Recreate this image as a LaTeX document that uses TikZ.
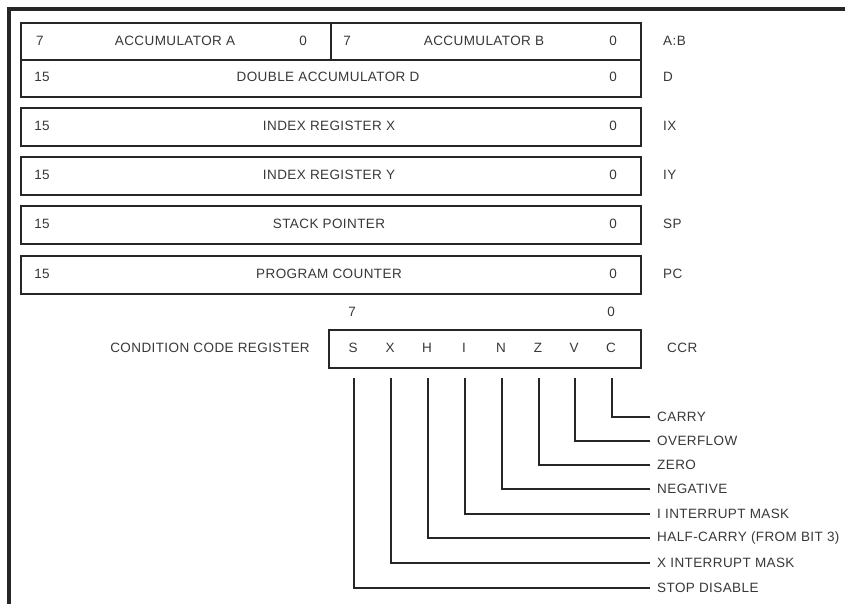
\documentclass[tikz,border=0pt]{standalone}
\usepackage{fontspec}
\setmainfont{Liberation Sans}[LetterSpace=3]
\begin{document}
\begin{tikzpicture}[x=1pt,y=-1pt,
  reg/.style={draw=black!85, line width=2.4pt, anchor=north west, inner sep=0pt, minimum height=37pt},
  txt/.style={font=\fontsize{13.5}{15}\selectfont, text=black!78, inner sep=0pt},
  lab/.style={txt, anchor=west},
  wire/.style={draw=black!85, line width=1.3pt}]
\useasboundingbox (0,0) rectangle (845,604);
\fill[white] (0,0) rectangle (845,604);
\draw[line width=3.5pt, black!85] (9,604) -- (9,9) -- (845,9);

% accumulators
\node[reg, minimum width=310pt] (ra) at (20,22) {};
\node[reg, minimum width=310pt] (rb) at (330,22) {};
\node[reg, minimum width=620pt] (rd) at (20,59) {};
\node[txt] (ra7) at (40,41) {7};
\node[txt] (ran) at (175,41) {ACCUMULATOR A};
\node[txt] (ra0) at (303,41) {0};
\node[txt] (rb7) at (347,41) {7};
\node[txt] (rbn) at (484,41) {ACCUMULATOR B};
\node[txt] (rb0) at (613,41) {0};
\node[lab] (lab) at (663,41) {A:B};
\node[txt] (rd15) at (42,77) {15};
\node[txt] (rdn) at (328,77) {DOUBLE ACCUMULATOR D};
\node[txt] (rd0) at (613,77) {0};
\node[lab] (ld) at (663,77) {D};

% 16-bit registers
\foreach \nm/\y/\name/\short in {ix/107/INDEX REGISTER X/IX, iy/156/INDEX REGISTER Y/IY, sp/205/STACK POINTER/SP, pc/255/PROGRAM COUNTER/PC}{
  \node[reg, minimum width=620pt, minimum height=38pt] (\nm) at (20,\y) {};
  \node[txt] (\nm15) at (42,\y+19) {15};
  \node[txt] (\nm n) at (329,\y+19) {\name};
  \node[txt] (\nm0) at (613,\y+19) {0};
  \node[lab] (\nm l) at (663,\y+19) {\short};
}

% condition code register
\node[txt] (c7) at (352,312) {7};
\node[txt] (c0) at (611,312) {0};
\node[reg, minimum width=312pt, minimum height=38pt] (ccr) at (328,329) {};
\node[txt] (ccrname) at (210,348) {CONDITION CODE REGISTER};
\node[lab] (ccrl) at (667,348) {CCR};

\foreach \x/\b/\y/\desc in {353/S/588/{STOP DISABLE}, 390/X/563/{X INTERRUPT MASK}, 427/H/538/{HALF-CARRY (FROM BIT 3)}, 464/I/514/{I INTERRUPT MASK}, 501/N/489/{NEGATIVE}, 538/Z/465/{ZERO}, 574/V/441/{OVERFLOW}, 611/C/417/{CARRY}}{
  \node[txt] (b\b) at (\x,348) {\b};
  \coordinate (v\b) at (\x+1,378);
  \node[lab] (d\b) at (657,\y) {\desc};
  \draw[wire] (v\b) |- ([xshift=-7pt]d\b.west);
}
\end{tikzpicture}
\end{document}
